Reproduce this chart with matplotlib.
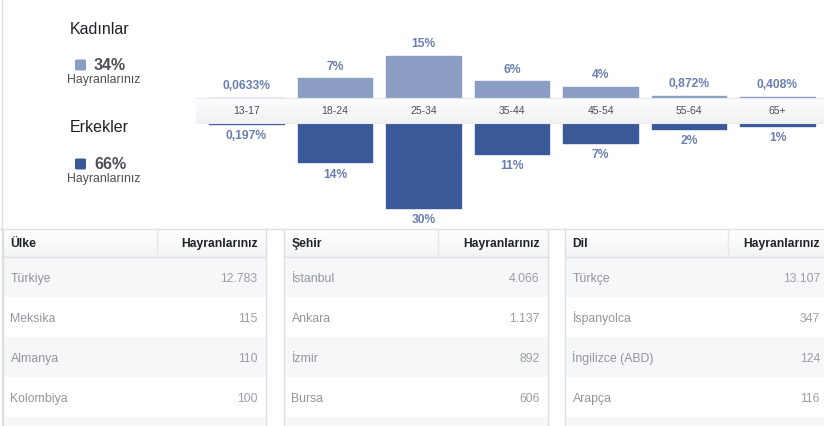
import numpy as np
from matplotlib import pyplot as plt
from matplotlib.colors import LinearSegmentedColormap
from matplotlib.patches import Rectangle, FancyBboxPatch

plt.rcParams['font.family'] = ['Liberation Sans', 'DejaVu Sans']

W, H = 824, 427

AGES = ['13-17', '18-24', '25-34', '35-44', '45-54', '55-64', '65+']
WOMEN = [0.0633, 7, 15, 6, 4, 0.872, 0.408]
MEN = [0.197, 14, 30, 11, 7, 2, 1]
WOMEN_LABELS = ['0,0633%', '7%', '15%', '6%', '4%', '0,872%', '0,408%']
MEN_LABELS = ['0,197%', '14%', '30%', '11%', '7%', '2%', '1%']

GENDERS = ['Kadınlar', 'Erkekler']
GENDER_SHARE = ['34%', '66%']

COUNTRIES = ['Türkiye', 'Meksika', 'Almanya', 'Kolombiya']
COUNTRY_FANS = ['12.783', '115', '110', '100']
CITIES = ['İstanbul', 'Ankara', 'İzmir', 'Bursa']
CITY_FANS = ['4.066', '1.137', '892', '606']
LANGS = ['Türkçe', 'İspanyolca', 'İngilizce (ABD)', 'Arapça']
LANG_FANS = ['13.107', '347', '124', '116']

LIGHT = '#8b9dc3'
DARK = '#3b5998'
LABEL = '#6a7eb0'
BORDER = '#dddfe2'
TEXT = '#1d2129'
GREY = '#90949c'

fig = plt.figure(figsize=(W / 100, H / 100), dpi=100)

# ---- background axes in pixel coordinates
bg = fig.add_axes([0, 0, 1, 1])
bg.set_xlim(0, W)
bg.set_ylim(H, 0)
bg.axis('off')

# ---- age / gender chart
px_per = 2.82
center = 111.5
band_half = 12.5 / px_per
left_px, bottom_px = 196, 228
ax = fig.add_axes([left_px / W, 1 - bottom_px / H, (W - left_px) / W, bottom_px / H])
ax.axis('off')
x = np.arange(len(AGES))
spacing = 88.5
x0 = 246.5
ax.set_xlim((left_px - x0) / spacing, (W - x0) / spacing)
ax.set_ylim(-(bottom_px - center) / px_per, center / px_per)

women = np.array(WOMEN)
men = np.array(MEN)
ax.bar(x, women + band_half, width=0.84, color=LIGHT, edgecolor=LIGHT,
       linewidth=1.0, joinstyle='round', zorder=2)
ax.bar(x, -(men + band_half), width=0.84, color=DARK, edgecolor=DARK,
       linewidth=1.0, joinstyle='round', zorder=2)

# band with age groups
grad = np.linspace(0, 1, 50).reshape(-1, 1)
xl = ax.get_xlim()
ax.imshow(grad, extent=[xl[0], xl[1], -band_half, band_half], aspect='auto',
          cmap=LinearSegmentedColormap.from_list('band', ['#f1f2f4', '#fdfdfe']),
          origin='lower', zorder=3)
ax.axhline(band_half, color='#e6e8eb', lw=0.8, zorder=4)
ax.axhline(-band_half, color='#e9ebee', lw=0.8, zorder=4)
ax.set_xlim(xl)

for i, age in enumerate(AGES):
    ax.text(i, 0, age, ha='center', va='center', fontsize=7.5,
            color='#4b4f56', zorder=5)
    ax.annotate(WOMEN_LABELS[i], (i, women[i] + band_half), xytext=(0, 9),
                textcoords='offset points', ha='center', va='center',
                fontsize=8.7, fontweight='bold', color=LABEL)
    ax.annotate(MEN_LABELS[i], (i, -(men[i] + band_half)), xytext=(0, -8),
                textcoords='offset points', ha='center', va='center',
                fontsize=8.7, fontweight='bold', color=LABEL)

# gender legend on the left
for k, (name, share, col) in enumerate(zip(GENDERS, GENDER_SHARE, [LIGHT, DARK])):
    dy = k * 99
    bg.text(70, 33.5 + dy, name, ha='left', va='baseline', fontsize=11.5, color=TEXT)
    bg.add_patch(FancyBboxPatch((75, 60.5 + dy), 11, 11,
                                boxstyle='round,pad=0,rounding_size=1.5',
                                fc=col, ec='none'))
    bg.text(94, 70 + dy, share, ha='left', va='baseline', fontsize=11.5,
            fontweight='bold', color='#4b4f56')
    bg.text(67, 83.5 + dy, 'Hayranlarınız', ha='left', va='baseline',
            fontsize=8.8, color='#4b4f56')

# outer borders
bg.plot([2.5, 2.5], [0, H], color=BORDER, lw=1)
bg.plot([0, W], [229.5, 229.5], color=BORDER, lw=1)

# ---- tables
tables = [
    ('Ülke', COUNTRIES, COUNTRY_FANS, 3, 266.5, 157),
    ('Şehir', CITIES, CITY_FANS, 284, 548.5, 438.5),
    ('Dil', LANGS, LANG_FANS, 565, 830, 728.5),
]
head_top, head_bot = 230, 258
row_h = 40
hgrad = np.linspace(0, 1, 30).reshape(-1, 1)
hcmap = LinearSegmentedColormap.from_list('head', ['#ffffff', '#f3f4f6'])
for title, names, vals, tl, tr, div in tables:
    right = tr - 9 if tr < W else 820
    bg.imshow(hgrad, extent=[tl, tr, head_top, head_bot], aspect='auto',
              cmap=hcmap, origin='lower', zorder=1)
    bg.plot([tl, tr], [head_bot, head_bot], color=BORDER, lw=1, zorder=3)
    bg.plot([div, div], [head_top, head_bot], color='#e6e7ea', lw=1, zorder=3)
    bg.text(tl + 7.5, 247.5, title, ha='left', va='baseline', fontsize=8.7,
            fontweight='bold', color=TEXT, zorder=4)
    bg.text(right, 247.5, 'Hayranlarınız', ha='right',
            va='baseline', fontsize=8.7, fontweight='bold', color=TEXT, zorder=4)
    for r in range(5):
        top = head_bot + r * row_h
        if r % 2 == 0:
            bg.add_patch(Rectangle((tl, top), tr - tl, row_h, fc='#f6f7f9',
                                   ec='none', zorder=1))
    for r, (nm, v) in enumerate(zip(names, vals)):
        yb = head_bot + r * row_h + 24.5
        bg.text(tl + 7.5, yb, nm, ha='left', va='baseline', fontsize=8.8,
                color=GREY, zorder=4)
        bg.text(right, yb, v, ha='right', va='baseline',
                fontsize=8.8, color='#9a9ea6', zorder=4)
    bg.plot([tl, tl], [head_top, H], color=BORDER, lw=1, zorder=3)
    bg.plot([tr, tr], [head_top, H], color=BORDER, lw=1, zorder=3)

bg.set_xlim(0, W)
bg.set_ylim(H, 0)

fig.savefig('out.png', dpi=100)
